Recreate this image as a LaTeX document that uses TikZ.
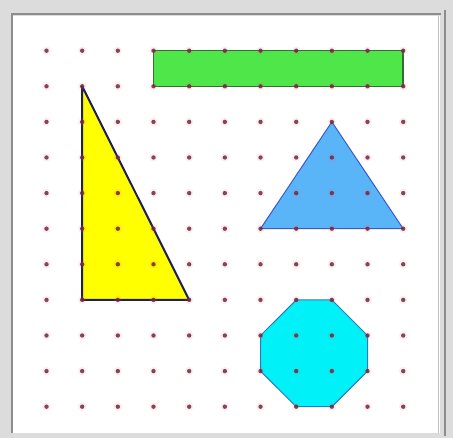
\documentclass[tikz,border=0pt]{standalone}
\begin{document}
\begin{tikzpicture}[x=1pt,y=-1pt,
  dotstyle/.style={fill=dotred, opacity=0.85},
  halostyle/.style={fill=red!60, opacity=0.12},
  shapeline/.style={line join=round}]
\definecolor{dotred}{HTML}{6A2A42}
\definecolor{framebg}{HTML}{DCDCDC}
\definecolor{framedark}{HTML}{8C8C8C}
\definecolor{greenfill}{HTML}{4FE64A}
\definecolor{greenline}{HTML}{3A6A3A}
\definecolor{yellowfill}{HTML}{FFFF00}
\definecolor{yellowline}{HTML}{1E1E5A}
\definecolor{bluefill}{HTML}{5AB4F8}
\definecolor{blueline}{HTML}{3A5AC8}
\definecolor{cyanfill}{HTML}{00F2F8}
\definecolor{cyanline}{HTML}{2A7ABE}
% frame
\fill[framebg] (0,0) rectangle (453,438);
\useasboundingbox (0,0) rectangle (453,438);
\fill[white] (13,16) rectangle (440,433);
\draw[framedark, line width=2] (12,433) -- (12,14) -- (441,14);
\draw[framedark, line width=2] (445,10) -- (445,436);
\draw[gray!50, line width=1] (438,16) -- (438,433);
% grid coordinates
\foreach \i in {0,...,10}{
  \foreach \j in {0,...,10}{
    \coordinate (p-\i-\j) at ({46.5+35.67*\i},{50.7+35.6*\j});
  }
}
% shapes
\draw[shapeline, fill=greenfill, draw=greenline, line width=1.5]
  (p-3-0) -- (p-10-0) -- (p-10-1) -- (p-3-1) -- cycle;
\draw[shapeline, fill=yellowfill, draw=yellowline, line width=2]
  (p-1-1) -- (p-1-7) -- (p-4-7) -- cycle;
\draw[shapeline, fill=bluefill, draw=blueline, line width=1]
  (p-8-2) -- (p-10-5) -- (p-6-5) -- cycle;
\draw[shapeline, fill=cyanfill, draw=cyanline, line width=1]
  (p-7-7) -- (p-8-7) -- (p-9-8) -- (p-9-9) -- (p-8-10) -- (p-7-10) -- (p-6-9) -- (p-6-8) -- cycle;
% dots
\foreach \i in {0,...,10}{
  \foreach \j in {0,...,10}{
    \fill[halostyle] (p-\i-\j) circle (4.2);
    \fill[dotstyle] (p-\i-\j) circle (2.2);
  }
}
\end{tikzpicture}
\end{document}
